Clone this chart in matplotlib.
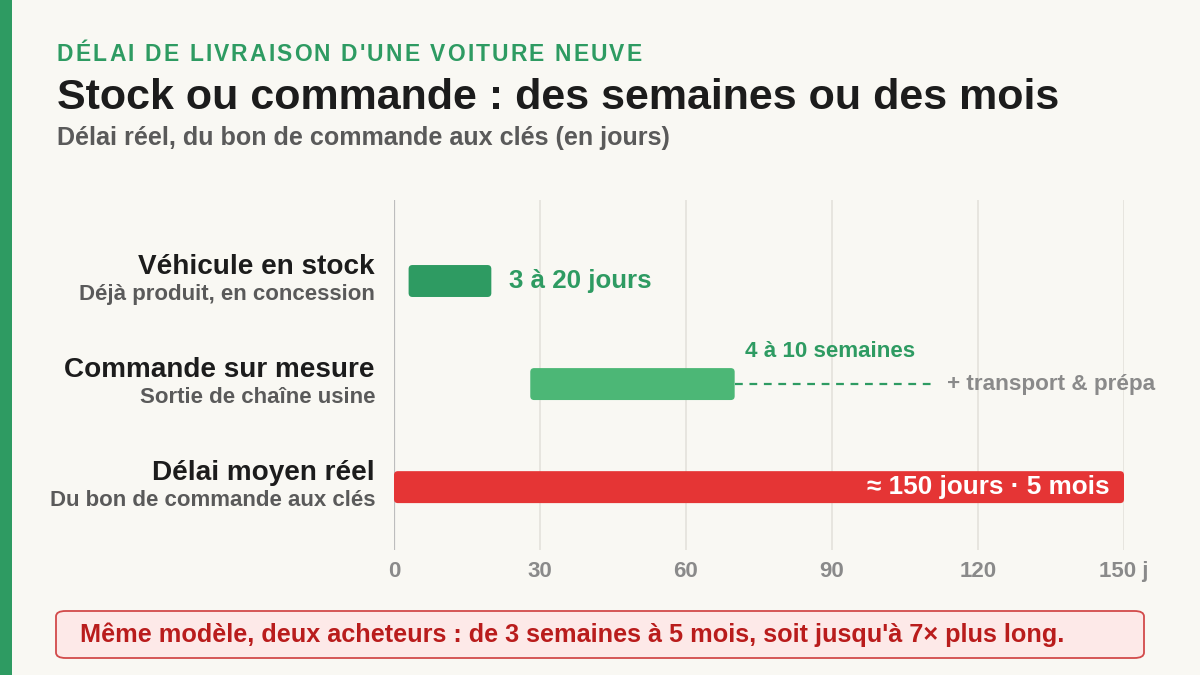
import matplotlib
matplotlib.use("Agg")
import matplotlib.pyplot as plt
from matplotlib.patches import FancyBboxPatch, Rectangle

plt.rcParams['font.family'] = ['Liberation Sans', 'DejaVu Sans']

# data
categories = ["Véhicule en stock", "Commande sur mesure", "Délai moyen réel"]
subtitles = ["Déjà produit, en concession", "Sortie de chaîne usine", "Du bon de commande aux clés"]
starts = [3, 28, 0]
ends = [20, 70, 150]
extra_end = 111  # pointillés "+ transport & prépa"
bar_labels = ["3 à 20 jours", "4 à 10 semaines", "≈ 150 jours · 5 mois"]
ticks = [0, 30, 60, 90, 120, 150]
tick_labels = ["0", "30", "60", "90", "120", "150 j"]

bg = "#f9f8f3"
green_dark = "#2e9b62"
green_light = "#4cb776"
red = "#e53535"
grey = "#8a8a8a"
colors = [green_dark, green_light, red]

W, H = 1200, 675
fig = plt.figure(figsize=(12, 6.75), dpi=100)
fig.patch.set_facecolor(bg)
renderer = fig.canvas.get_renderer()


# texte avec espacement entre lettres (pas de letter-spacing natif dans mpl)
def tracked_text(x_px, y_px, s, spacing, **kw):
    x = x_px
    for ch in s:
        t = fig.text(x / W, 1 - y_px / H, ch, va="baseline", **kw)
        w = t.get_window_extent(renderer).width
        if ch == " ":
            w = kw.get("fontsize", 10) * 1.389 * 0.278
        x += w + spacing


# bande verticale à gauche
fig.add_artist(Rectangle((0, 0), 12 / W, 1, transform=fig.transFigure,
                         facecolor=green_dark, edgecolor="none"))

tracked_text(57, 61, "DÉLAI DE LIVRAISON D'UNE VOITURE NEUVE", 2.1,
             fontsize=16.5, fontweight="bold", color=green_dark)
fig.text(57 / W, 1 - 109 / H, "Stock ou commande : des semaines ou des mois",
         fontsize=31, fontweight="bold", color="#1c1c1c", va="baseline")
fig.text(57 / W, 1 - 145 / H, "Délai réel, du bon de commande aux clés (en jours)",
         fontsize=18.1, fontweight="bold", color="#5a5a5a", va="baseline")

ax = fig.add_axes([394 / W, 1 - 550 / H, 730 / W, 350 / H])
ax.set_facecolor(bg)
ax.set_xlim(0, 150)
ax.set_ylim(2.61, -0.786)
for s in ax.spines.values():
    s.set_visible(False)
ax.set_yticks([])
ax.set_xticks(ticks)
ax.set_xticklabels(tick_labels)
ax.tick_params(axis="x", length=0, pad=8, labelsize=16, labelcolor=grey)
for lab in ax.get_xticklabels():
    lab.set_fontweight("bold")
for t in ticks:
    ax.axvline(t, color="#bdbdbd" if t == 0 else "#e4e2dc", lw=1.6 if t == 0 else 1.2, zorder=0)

bh = 0.31
xpx = 150 / 730
ypx = 1 / 103
for i in range(len(categories)):
    w = ends[i] - starts[i]
    patch = FancyBboxPatch((starts[i], i - bh / 2), w, bh,
                           boxstyle="round,pad=0,rounding_size=0.8",
                           mutation_aspect=ypx / xpx,
                           facecolor=colors[i], edgecolor="none", zorder=3)
    ax.add_patch(patch)
    ax.text(-19 * xpx, i - 0.065, categories[i], ha="right", va="baseline",
            fontsize=20.1, fontweight="bold", color="#1c1c1c", clip_on=False)
    ax.text(-19 * xpx, i + 0.185, subtitles[i], ha="right", va="baseline",
            fontsize=16, fontweight="bold", color="#5a5a5a", clip_on=False)

# étiquettes des barres
ax.text(ends[0] + 18 * xpx, 0, bar_labels[0], ha="left", va="center",
        fontsize=18.6, fontweight="bold", color=green_dark)
ax.text((ends[1] + extra_end) / 2 - 1, 1 - 0.32, bar_labels[1], ha="center", va="center",
        fontsize=16.1, fontweight="bold", color=green_dark)
ax.plot([ends[1], extra_end], [1, 1], ls=(0, (3.5, 3)), color=green_dark, lw=1.6, zorder=2)
ax.text(extra_end + 13 * xpx, 1, "+ transport & prépa", ha="left", va="center",
        fontsize=16.2, fontweight="bold", color=grey, clip_on=False)
ax.text(ends[2] - 14 * xpx, 2, bar_labels[2], ha="right", va="center",
        fontsize=18.8, fontweight="bold", color="white", zorder=4)

# encadré du bas
box = FancyBboxPatch((56 / W, 1 - 658 / H), 1088 / W, 47 / H,
                     boxstyle="round,pad=0,rounding_size=0.008",
                     transform=fig.transFigure, facecolor="#fde9e8",
                     edgecolor="#d24a4a", lw=1.3)
fig.add_artist(box)
fig.text(80 / W, 1 - 635 / H,
         "Même modèle, deux acheteurs : de 3 semaines à 5 mois, soit jusqu'à 7× plus long.",
         fontsize=18.2, fontweight="bold", color="#b91c1c", va="center")

fig.savefig("out.png", dpi=100, facecolor=bg)
